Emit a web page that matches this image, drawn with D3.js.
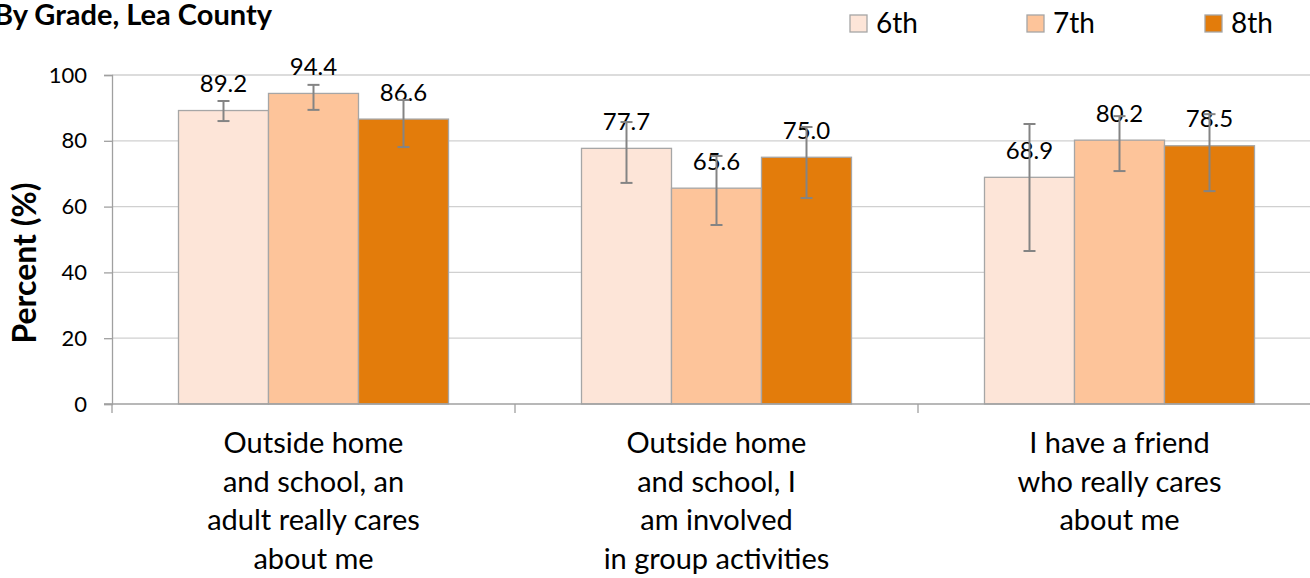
<!DOCTYPE html>
<html>
<head>
<meta charset="utf-8">
<script src="https://cdn.jsdelivr.net/npm/d3@7"></script>
<style>
  body { margin: 0; background: #fff; }
  svg { font-family: Lato, "Open Sans", sans-serif; }
</style>
</head>
<body>
<svg width="1310" height="578"></svg>
<script>
// Chart data
var categories = [
    ["Outside home", "and school, an", "adult really cares", "about me"],
    ["Outside home", "and school, I", "am involved", "in group activities"],
    ["I have a friend", "who really cares", "about me"]
];
var grades = ["6th", "7th", "8th"];
var values6 = [89.2, 77.7, 68.9];
var values7 = [94.4, 65.6, 80.2];
var values8 = [86.6, 75.0, 78.5];
var lower6 = [86.0, 67.2, 46.5];
var upper6 = [92.1, 85.7, 85.1];
var lower7 = [89.4, 54.4, 70.8];
var upper7 = [97.0, 75.4, 87.5];
var lower8 = [78.1, 62.6, 64.7];
var upper8 = [92.4, 84.2, 88.1];
var yTicks = [0, 20, 40, 60, 80, 100];
var colors = ["#fde5d8", "#fdc49a", "#e37c0b"];

var svg = d3.select("svg"),
    width = +svg.attr("width"),
    height = +svg.attr("height");

var plotLeft = 112, plotRight = 1321, plotTop = 75, plotBottom = 404;

// build rows per grade
var series = [
    { grade: grades[0], vals: values6, lo: lower6, hi: upper6 },
    { grade: grades[1], vals: values7, lo: lower7, hi: upper7 },
    { grade: grades[2], vals: values8, lo: lower8, hi: upper8 }
];
var groupIdx = d3.range(categories.length);

var x0 = d3.scaleBand().domain(groupIdx).range([plotLeft, plotRight]).paddingInner(0).paddingOuter(0);
var x1 = d3.scaleBand().domain(grades).range([66.5, x0.bandwidth() - 66.5]);
var y = d3.scaleLinear().domain([0, 100]).range([plotBottom, plotTop]);

// gridlines
svg.append("g")
    .selectAll("line")
    .data(yTicks.filter(function(d) { return d > 0; }))
    .enter().append("line")
    .attr("x1", plotLeft).attr("x2", plotRight)
    .attr("y1", function(d) { return y(d); })
    .attr("y2", function(d) { return y(d); })
    .attr("stroke", "#d0d0d0").attr("stroke-width", 1.3);

// bars
var bars = [];
series.forEach(function(s, si) {
    groupIdx.forEach(function(g) {
        bars.push({ g: g, si: si, grade: s.grade, v: s.vals[g], lo: s.lo[g], hi: s.hi[g] });
    });
});

svg.append("g")
    .selectAll("rect")
    .data(bars)
    .enter().append("rect")
    .attr("x", function(d) { return x0(d.g) + x1(d.grade); })
    .attr("y", function(d) { return y(d.v); })
    .attr("width", x1.bandwidth())
    .attr("height", function(d) { return y(0) - y(d.v); })
    .attr("fill", function(d) { return colors[d.si]; })
    .attr("stroke", "#a6a6a6").attr("stroke-width", 1.3);

// y axis
var yAxis = svg.append("g")
    .attr("transform", "translate(" + plotLeft + ",0)")
    .call(d3.axisLeft(y).tickValues(yTicks).tickSize(8).tickPadding(17));
yAxis.select(".domain").attr("stroke", "#a0a0a0").attr("stroke-width", 1.3);
yAxis.selectAll(".tick line").attr("stroke", "#a0a0a0").attr("stroke-width", 1.3);
yAxis.selectAll("text").attr("font-size", 22).attr("fill", "#000")
    .attr("font-family", "Lato");

// x axis line + group separators
svg.append("line")
    .attr("x1", plotLeft - 8).attr("x2", plotRight)
    .attr("y1", plotBottom).attr("y2", plotBottom)
    .attr("stroke", "#a0a0a0").attr("stroke-width", 1.3);
svg.append("g")
    .selectAll("line")
    .data(groupIdx)
    .enter().append("line")
    .attr("x1", function(d) { return x0(d); })
    .attr("x2", function(d) { return x0(d); })
    .attr("y1", plotBottom).attr("y2", plotBottom + 9)
    .attr("stroke", "#a0a0a0").attr("stroke-width", 1.3);

// value labels
svg.append("g")
    .selectAll("text")
    .data(bars)
    .enter().append("text")
    .attr("x", function(d) { return x0(d.g) + x1(d.grade) + x1.bandwidth() / 2; })
    .attr("y", function(d) { return y(d.v) - 18.5; })
    .attr("text-anchor", "middle")
    .attr("font-size", 24)
    .text(function(d) { return d.v.toFixed(1); });

// error bars (drawn over labels like the original)
var eb = svg.append("g").attr("stroke", "#848484").attr("stroke-width", 2);
bars.forEach(function(d) {
    var cx = x0(d.g) + x1(d.grade) + x1.bandwidth() / 2;
    eb.append("line").attr("x1", cx).attr("x2", cx).attr("y1", y(d.hi)).attr("y2", y(d.lo));
    eb.append("line").attr("x1", cx - 6).attr("x2", cx + 6).attr("y1", y(d.hi)).attr("y2", y(d.hi));
    eb.append("line").attr("x1", cx - 6).attr("x2", cx + 6).attr("y1", y(d.lo)).attr("y2", y(d.lo));
});

// category labels
var catG = svg.append("g");
categories.forEach(function(lines, g) {
    var t = catG.append("text")
        .attr("text-anchor", "middle")
        .attr("font-size", 29)
        .attr("x", x0(g) + x0.bandwidth() / 2)
        .attr("y", 453);
    lines.forEach(function(l, i) {
        t.append("tspan")
            .attr("x", x0(g) + x0.bandwidth() / 2)
            .attr("dy", i === 0 ? 0 : 38.7)
            .text(l);
    });
});

// y axis title
svg.append("text")
    .attr("transform", "translate(36,263) rotate(-90)")
    .attr("text-anchor", "middle")
    .attr("font-size", 32)
    .attr("font-weight", "bold")
    .text("Percent (%)");

// chart title (cut off at left edge)
svg.append("text")
    .attr("x", 272).attr("y", 25)
    .attr("text-anchor", "end")
    .attr("font-size", 29)
    .attr("font-weight", "bold")
    .text("By Grade, Lea County");

// legend
var legendX = [850, 1027, 1205];
var leg = svg.append("g")
    .selectAll("g")
    .data(grades)
    .enter().append("g")
    .attr("transform", function(d, i) { return "translate(" + legendX[i] + ",15)"; });
leg.append("rect")
    .attr("width", 17).attr("height", 17)
    .attr("fill", function(d, i) { return colors[i]; })
    .attr("stroke", "#a6a6a6").attr("stroke-width", 1.3);
leg.append("text")
    .attr("x", 26).attr("y", 18)
    .attr("font-size", 28)
    .text(function(d) { return d; });
</script>
</body>
</html>
